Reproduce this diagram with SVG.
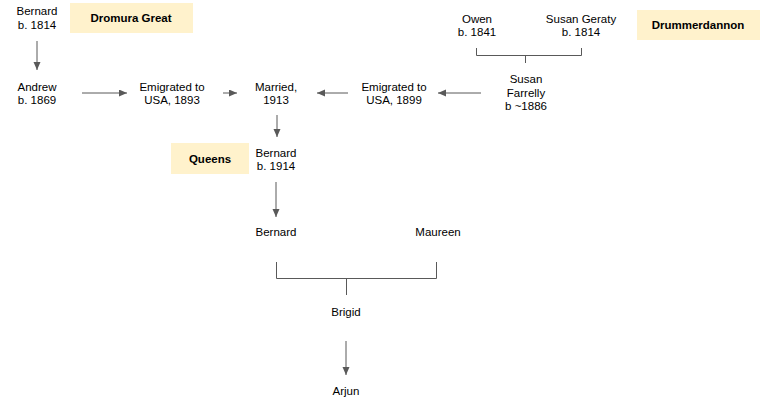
<svg xmlns="http://www.w3.org/2000/svg" width="767" height="408" viewBox="0 0 767 408">
<style>
text{font-family:"Liberation Sans",Arial,sans-serif;font-size:11.5px;fill:#000;text-anchor:middle}
.lbl{font-weight:bold}
.box{fill:#fff2cc}
.c{stroke:#595959;stroke-width:1;fill:none}
.a{marker-end:url(#ah)}
</style>
<defs>
<marker id="ah" markerUnits="userSpaceOnUse" markerWidth="9" markerHeight="8" refX="8" refY="3.5" orient="auto">
<path d="M0,0 L8,3.5 L0,7 z" fill="#595959"/>
</marker>
</defs>
<rect width="767" height="408" fill="#fff"/>
<g id="connectors">
<line class="c a" x1="37" y1="41" x2="37" y2="70"/>
<line class="c a" x1="82" y1="93" x2="127" y2="93"/>
<line class="c a" x1="223" y1="93" x2="237" y2="93"/>
<line class="c a" x1="348" y1="93" x2="317" y2="93"/>
<line class="c a" x1="481" y1="93" x2="438" y2="93"/>
<line class="c a" x1="277" y1="115" x2="277" y2="137"/>
<line class="c a" x1="276" y1="182" x2="276" y2="217"/>
<line class="c a" x1="346" y1="341" x2="346" y2="375"/>
<path class="c" d="M476.5,48 V55.5 H581.5 V48 M525.5,55.5 V63"/>
<path class="c" d="M276.5,262 V278.5 H436.5 V262 M346.5,278.5 V295"/>
</g>
<g id="dromura-great"><rect class="box" x="70" y="3" width="123" height="30"/><text class="lbl" x="131" y="22">Dromura Great</text></g>
<g id="drummerdannon"><rect class="box" x="637" y="10" width="123" height="30"/><text class="lbl" x="698" y="29">Drummerdannon</text></g>
<g id="queens"><rect class="box" x="171" y="143" width="78" height="31"/><text class="lbl" x="210" y="163">Queens</text></g>
<g id="bernard-1814"><text x="37" y="15">Bernard</text><text x="37" y="28.5">b. 1814</text></g>
<g id="andrew"><text x="37" y="90.5">Andrew</text><text x="37" y="104">b. 1869</text></g>
<g id="emigrated-1893"><text x="172" y="90.5">Emigrated to</text><text x="172" y="104">USA, 1893</text></g>
<g id="married"><text x="276" y="90.5">Married,</text><text x="276" y="104">1913</text></g>
<g id="emigrated-1899"><text x="394" y="90.5">Emigrated to</text><text x="394" y="104">USA, 1899</text></g>
<g id="owen"><text x="477" y="22.5">Owen</text><text x="477" y="36">b. 1841</text></g>
<g id="susan-geraty"><text x="581" y="22.5">Susan Geraty</text><text x="581" y="36">b. 1814</text></g>
<g id="susan-farrelly"><text x="526" y="83">Susan</text><text x="526" y="96.5">Farrelly</text><text x="526" y="110">b ~1886</text></g>
<g id="bernard-1914"><text x="276" y="156.5">Bernard</text><text x="276" y="170">b. 1914</text></g>
<g id="bernard"><text x="276" y="236">Bernard</text></g>
<g id="maureen"><text x="438" y="236">Maureen</text></g>
<g id="brigid"><text x="346" y="316">Brigid</text></g>
<g id="arjun"><text x="346" y="395">Arjun</text></g>
</svg>
